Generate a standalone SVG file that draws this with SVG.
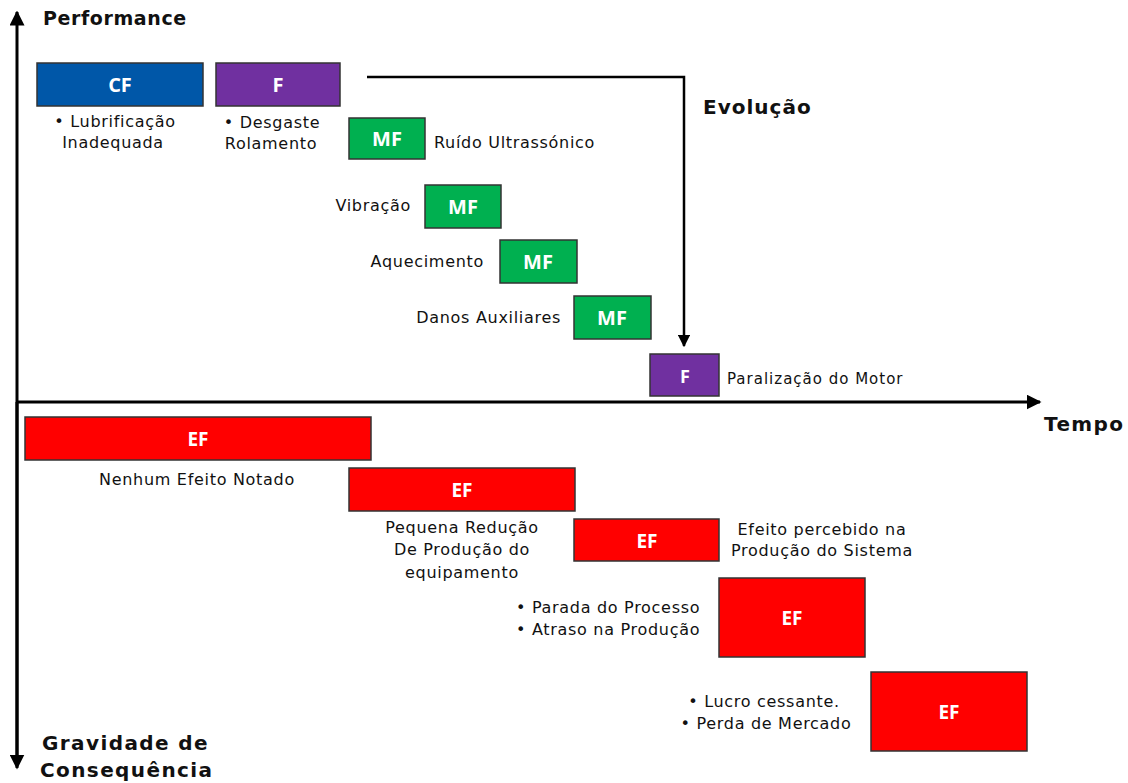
<svg xmlns="http://www.w3.org/2000/svg" width="1128" height="783" viewBox="0 0 1128 783">
<defs>
<marker id="ah" viewBox="0 0 10 10" refX="9" refY="5" markerWidth="5" markerHeight="5" orient="auto-start-reverse" markerUnits="strokeWidth"><path d="M0,0 L10,5 L0,10 z" fill="#000"/></marker>
<marker id="ah2" viewBox="0 0 10 10" refX="9" refY="5" markerWidth="5" markerHeight="5" orient="auto" markerUnits="strokeWidth"><path d="M0,0 L10,5 L0,10 z" fill="#000"/></marker>
</defs>
<style>
.box{stroke:#333;stroke-width:1.5}
.cf{fill:#0057A8}
.f{fill:#7030A0}
.mf{fill:#00B050}
.ef{fill:#FF0000}
.bl{font-family:"Open Sans","Liberation Sans",sans-serif;font-weight:bold;fill:#fff;text-anchor:middle}
.t{font-family:"DejaVu Sans",Verdana,sans-serif;font-size:16px;letter-spacing:0.7px;fill:#111}
.h{font-family:"DejaVu Sans",Verdana,sans-serif;font-weight:bold;font-size:20px;letter-spacing:1.4px;fill:#111}
.ax{stroke:#000;stroke-width:3;fill:none}
</style>
<rect width="1128" height="783" fill="#fff"/>
<g id="connectors">
<line class="ax" x1="17" y1="765" x2="17" y2="12" marker-end="url(#ah)"/>
<line class="ax" x1="17" y1="402" x2="17" y2="768" marker-end="url(#ah)"/>
<line class="ax" x1="17" y1="402" x2="1040" y2="402" marker-end="url(#ah)"/>
<path d="M367,77 H684 V346" stroke="#000" stroke-width="2.5" fill="none" marker-end="url(#ah2)"/>
</g>
<g id="axis-labels">
<text class="h" x="43" y="25" style="font-size:19px;letter-spacing:0.6px">Performance</text>
<text class="h" x="1044" y="431">Tempo</text>
<text class="h" x="42" y="750">Gravidade de</text>
<text class="h" x="40" y="777">Consequência</text>
<text class="h" x="703" y="114" style="letter-spacing:1px">Evolução</text>
</g>
<g id="node-cf">
<rect class="box cf" x="37" y="63" width="166" height="43"/>
<text class="bl" x="120" y="92" font-size="20">CF</text>
<text class="t" x="115" y="127" text-anchor="middle">• Lubrificação</text>
<text class="t" x="113" y="148" text-anchor="middle">Inadequada</text>
</g>
<g id="node-f1">
<rect class="box f" x="216" y="63" width="124" height="43"/>
<text class="bl" x="278" y="92" font-size="20">F</text>
<text class="t" x="272" y="128" text-anchor="middle">• Desgaste</text>
<text class="t" x="271" y="149" text-anchor="middle">Rolamento</text>
</g>
<g id="node-mf1">
<rect class="box mf" x="349" y="118" width="76" height="41"/>
<text class="bl" x="387" y="146" font-size="20">MF</text>
<text class="t" x="434" y="148">Ruído Ultrassónico</text>
</g>
<g id="node-mf2">
<rect class="box mf" x="425" y="185" width="76" height="43"/>
<text class="bl" x="463" y="214" font-size="20">MF</text>
<text class="t" x="411" y="211" text-anchor="end">Vibração</text>
</g>
<g id="node-mf3">
<rect class="box mf" x="500" y="240" width="77" height="43"/>
<text class="bl" x="538" y="269" font-size="20">MF</text>
<text class="t" x="484" y="267" text-anchor="end">Aquecimento</text>
</g>
<g id="node-mf4">
<rect class="box mf" x="574" y="296" width="77" height="43"/>
<text class="bl" x="612" y="325" font-size="20">MF</text>
<text class="t" x="561" y="323" text-anchor="end">Danos Auxiliares</text>
</g>
<g id="node-f2">
<rect class="box f" x="650" y="354" width="69" height="42"/>
<text class="bl" x="685" y="383" font-size="18">F</text>
<text class="t" x="727" y="384" style="font-size:15px;letter-spacing:1px">Paralização do Motor</text>
</g>
<g id="node-ef1">
<rect class="box ef" x="25" y="417" width="346" height="43"/>
<text class="bl" x="198" y="446" font-size="19">EF</text>
<text class="t" x="197" y="485" text-anchor="middle">Nenhum Efeito Notado</text>
</g>
<g id="node-ef2">
<rect class="box ef" x="349" y="468" width="226" height="43"/>
<text class="bl" x="462" y="497" font-size="19">EF</text>
<text class="t" x="462" y="533" text-anchor="middle">Pequena Redução</text>
<text class="t" x="462" y="555" text-anchor="middle">De Produção do</text>
<text class="t" x="462" y="578" text-anchor="middle">equipamento</text>
</g>
<g id="node-ef3">
<rect class="box ef" x="574" y="519" width="145" height="42"/>
<text class="bl" x="647" y="548" font-size="19">EF</text>
<text class="t" x="822" y="535" text-anchor="middle">Efeito percebido na</text>
<text class="t" x="822" y="556" text-anchor="middle">Produção do Sistema</text>
</g>
<g id="node-ef4">
<rect class="box ef" x="719" y="578" width="146" height="79"/>
<text class="bl" x="792" y="625" font-size="19">EF</text>
<text class="t" x="516" y="613">• Parada do Processo</text>
<text class="t" x="516" y="635">• Atraso na Produção</text>
</g>
<g id="node-ef5">
<rect class="box ef" x="871" y="672" width="156" height="79"/>
<text class="bl" x="949" y="719" font-size="19">EF</text>
<text class="t" x="764" y="707" text-anchor="middle">• Lucro cessante.</text>
<text class="t" x="766" y="729" text-anchor="middle">• Perda de Mercado</text>
</g>
</svg>
